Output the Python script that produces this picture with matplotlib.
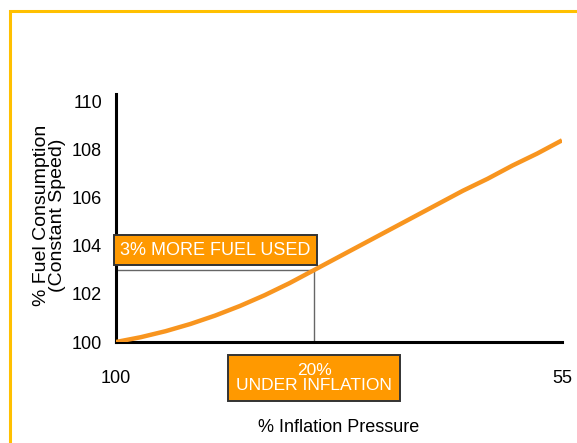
import matplotlib.pyplot as plt
from matplotlib.patches import Rectangle

# inflation pressure (% of recommended) vs fuel consumption (% at constant speed)
pressure = [100, 97.5, 95, 92.5, 90, 87.5, 85, 82.5, 80, 77.5,
            75, 72.5, 70, 67.5, 65, 62.5, 60, 57.5, 55]
fuel = [100.0, 100.2, 100.45, 100.75, 101.1, 101.5, 101.95, 102.45, 103.0, 103.55,
        104.1, 104.65, 105.2, 105.75, 106.3, 106.8, 107.35, 107.85, 108.4]

under_pressure = 80      # 20% under inflation
extra_fuel = 103         # 3% more fuel
y_ticks = [100, 102, 104, 106, 108, 110]
x_ticks = [100, 55]

fonts = ['Liberation Sans', 'DejaVu Sans']
orange = '#FF9900'

fig = plt.figure(figsize=(5.77, 4.43), dpi=100)

# yellow frame running off the right and bottom edges
fig.patches.append(Rectangle((10 / 577, -0.1), 1.2, 1 - 11 / 443 + 0.1,
                             transform=fig.transFigure, fill=False,
                             edgecolor='#FFC000', linewidth=2.2))

ax = fig.add_axes([116 / 577, 101 / 443, 446 / 577, 248 / 443])

ax.plot(pressure, fuel, color='#F8951F', linewidth=3.2, solid_capstyle='butt', zorder=3)

# guide lines to the 20% point
ax.plot([100, under_pressure], [extra_fuel, extra_fuel], color='#666666', linewidth=1, zorder=2)
ax.plot([under_pressure, under_pressure], [100, extra_fuel], color='#666666', linewidth=1, zorder=2)

ax.set_xlim(100, 55)
ax.set_ylim(100, 110.33)

for s in ['top', 'right']:
    ax.spines[s].set_visible(False)
for s in ['left', 'bottom']:
    ax.spines[s].set_linewidth(2.2)
    ax.spines[s].set_color('black')

ax.set_yticks(y_ticks)
ax.set_xticks(x_ticks)
ax.tick_params(axis='both', length=0, labelsize=13)
ax.tick_params(axis='y', pad=10)
ax.tick_params(axis='x', pad=20)
for lab in ax.get_xticklabels() + ax.get_yticklabels():
    lab.set_family(fonts)

ax.set_xlabel('% Inflation Pressure', fontsize=13, family=fonts)
ax.xaxis.set_label_coords(0.5, -0.31)
ax.set_ylabel('% Fuel Consumption\n(Constant Speed)', fontsize=14, family=fonts,
              linespacing=0.95)
ax.yaxis.set_label_coords(-0.112, 0.51)

box = dict(boxstyle='square,pad=0.35', facecolor=orange, edgecolor='#333333', linewidth=1.4)

ax.text((100 + under_pressure) / 2, extra_fuel + 0.83, '3% MORE FUEL USED',
        ha='center', va='center', color='white', fontsize=13, family=fonts,
        bbox=box, zorder=4)

ax.text(under_pressure, 98.5, '20%\nUNDER INFLATION', ha='center', va='center',
        color='white', fontsize=12.5, family=fonts, linespacing=1.0,
        bbox=dict(box, boxstyle='square,pad=0.45'), clip_on=False, zorder=4)

fig.savefig('out.png', dpi=100)
